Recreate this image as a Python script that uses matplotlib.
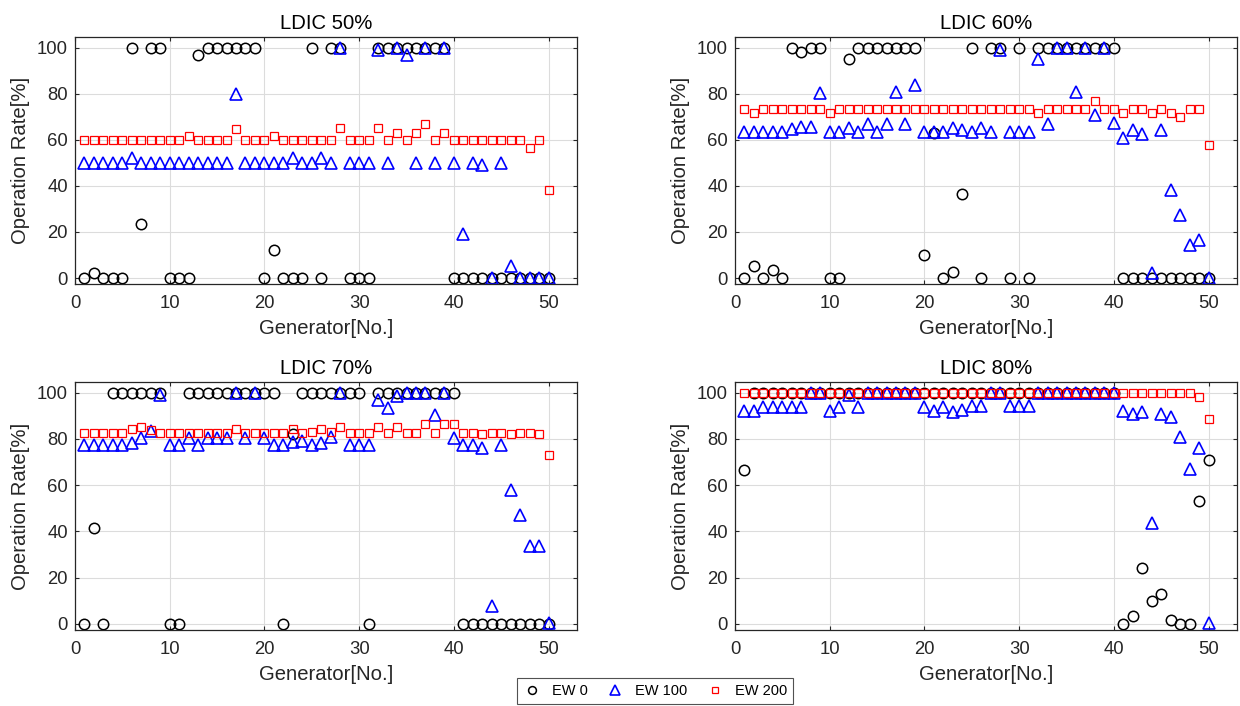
import numpy as np
import matplotlib
matplotlib.use("Agg")
import matplotlib.pyplot as plt

plt.rcParams['font.family'] = ['Liberation Sans', 'DejaVu Sans']

gen = np.arange(1, 51)
titles = ["LDIC 50%", "LDIC 60%", "LDIC 70%", "LDIC 80%"]
series_names = ["EW 0", "EW 100", "EW 200"]

# LDIC 50%
ew0_50 = [0, 2, 0, 0, 0, 100, 23.5, 100, 100, 0,
          0, 0, 97, 100, 100, 100, 100, 100, 100, 0,
          12, 0, 0, 0, 100, 0, 100, 100, 0, 0,
          0, 100, 100, 100, 100, 100, 100, 100, 100, 0,
          0, 0, 0, 0, 0, 0, 0, 0, 0, 0]
ew100_50 = [50, 50, 50, 50, 50, 52, 50, 50, 50, 50,
            50, 50, 50, 50, 50, 50, 80, 50, 50, 50,
            50, 50, 52, 50, 50, 52, 50, 100, 50, 50,
            50, 99, 50, 100, 97, 50, 100, 50, 100, 50,
            19, 50, 49, 0, 50, 5, 0, 0, 0, 0]
ew200_50 = [60, 60, 60, 60, 60, 60, 60, 60, 60, 60,
            60, 61.5, 60, 60, 60, 60, 64.5, 60, 60, 60,
            61.5, 60, 60, 60, 60, 60, 60, 65, 60, 60,
            60, 65, 60, 63, 60, 63, 66.8, 60, 63, 60,
            60, 60, 60, 60, 60, 60, 60, 56.6, 60, 38]

# LDIC 60%
ew0_60 = [0, 5, 0, 3.5, 0, 100, 98, 100, 100, 0,
          0, 95, 100, 100, 100, 100, 100, 100, 100, 10,
          63, 0, 2.5, 36.5, 100, 0, 100, 100, 0, 100,
          0, 100, 100, 100, 100, 100, 100, 100, 100, 100,
          0, 0, 0, 0, 0, 0, 0, 0, 0, 0]
ew100_60 = [63.4, 63.4, 63.4, 63.4, 63.4, 64.7, 65.6, 65.6, 80.3, 63.4,
            63.4, 65.3, 63.4, 67, 63.4, 67, 80.8, 67, 83.7, 63.4,
            63.4, 63.4, 65.2, 64.2, 63.4, 65.2, 63.4, 99, 63.4, 63.4,
            63.4, 95, 67, 100, 100, 80.8, 100, 70.7, 100, 67.3,
            60.8, 64.2, 62.7, 2.3, 64.2, 38.4, 27.3, 14.2, 16.5, 0]
ew200_60 = [73.3, 71.4, 73.3, 73.3, 73.3, 73.3, 73.3, 73.3, 73.3, 71.7,
            73.3, 73.3, 73.3, 73.3, 73.3, 73.3, 73.3, 73.3, 73.3, 73.3,
            73.3, 73.3, 73.3, 73.3, 73.3, 73.3, 73.3, 73.3, 73.3, 73.3,
            73.3, 71.7, 73.3, 73.3, 73.3, 73.3, 73.3, 76.9, 73.3, 73.3,
            71.7, 73.3, 73.3, 71.7, 73.3, 71.4, 69.9, 73.3, 73.3, 57.9]

# LDIC 70%
ew0_70 = [0, 41.5, 0, 100, 100, 100, 100, 100, 100, 0,
          0, 100, 100, 100, 100, 100, 100, 100, 100, 100,
          100, 0, 82, 100, 100, 100, 100, 100, 100, 100,
          0, 100, 100, 100, 100, 100, 100, 100, 100, 100,
          0, 0, 0, 0, 0, 0, 0, 0, 0, 0]
ew100_70 = [77.2, 77.2, 77.2, 77.2, 77.2, 78.2, 80.4, 83.4, 98.8, 77.2,
            77.2, 80.4, 77.2, 80.4, 80.4, 80.4, 100, 80.4, 100, 80.4,
            77.2, 77.2, 78.6, 79, 77.2, 78.2, 80.8, 100, 77.2, 77.2,
            77.2, 96.7, 93.4, 98.6, 100, 100, 100, 90.2, 100, 80.4,
            77.2, 77.2, 76, 7.6, 77.2, 58, 47.2, 33.6, 33.6, 0.5]
ew200_70 = [82.7, 82.7, 82.7, 82.7, 82.7, 84.1, 85.1, 83.7, 82.7, 82.7,
            82.7, 82.7, 82.7, 82.7, 82.7, 82.7, 84.4, 82.7, 82.7, 82.7,
            82.7, 82.7, 84.4, 82.7, 83, 84.4, 83, 85.1, 82.7, 82.7,
            82.7, 85.1, 82.7, 85.1, 82.7, 82.7, 86.6, 82.7, 86.6, 86.6,
            82.7, 82.7, 82, 82.7, 82.7, 82, 82.7, 82.7, 82, 72.9]

# LDIC 80%
ew0_80 = [66.7, 100, 100, 100, 100, 100, 100, 100, 100, 100,
          100, 100, 100, 100, 100, 100, 100, 100, 100, 100,
          100, 100, 100, 100, 100, 100, 100, 100, 100, 100,
          100, 100, 100, 100, 100, 100, 100, 100, 100, 100,
          0, 3.3, 24.3, 9.9, 13, 1.9, 0, 0, 53.3, 71]
ew100_80 = [92, 92, 93.8, 93.8, 93.8, 93.8, 93.8, 100, 100, 92,
            93.8, 99, 93.8, 100, 100, 100, 100, 100, 100, 93.8,
            92, 93.8, 91.6, 92.3, 94.2, 94.2, 100, 100, 94.2, 94.2,
            94.2, 100, 100, 100, 100, 100, 100, 100, 100, 100,
            92, 90.6, 91.6, 43.8, 90.6, 89.4, 80.7, 67.1, 76.1, 0.4]
ew200_80 = [100, 100, 100, 100, 100, 100, 100, 100, 100, 100,
            100, 100, 100, 100, 100, 100, 100, 100, 100, 100,
            100, 100, 100, 100, 100, 100, 100, 100, 100, 100,
            100, 100, 100, 100, 100, 100, 100, 100, 100, 100,
            100, 100, 100, 100, 100, 100, 100, 100, 98, 88.8]

panels = [
    (ew0_50, ew100_50, ew200_50),
    (ew0_60, ew100_60, ew200_60),
    (ew0_70, ew100_70, ew200_70),
    (ew0_80, ew100_80, ew200_80),
]

W, H = 1240, 706
fig = plt.figure(figsize=(W / 100, H / 100), dpi=100)

# axes boxes in pixels: left, top, right, bottom
boxes = [(75, 37, 577, 284), (735, 37, 1237, 284),
         (75, 382, 577, 630), (735, 382, 1237, 630)]

txt = '#262626'
handles = None
for (l, t, r, b), title, (s0, s1, s2) in zip(boxes, titles, panels):
    ax = fig.add_axes([l / W, 1 - b / H, (r - l) / W, (b - t) / H])
    h0, = ax.plot(gen, s0, 'o', ms=7.5, mfc='none', mec='black', mew=1.1, ls='none')
    h1, = ax.plot(gen, s1, '^', ms=9, mfc='none', mec=(0, 0, 1), mew=1.2, ls='none')
    h2, = ax.plot(gen, s2, 's', ms=5.5, mfc='none', mec=(1, 0, 0), mew=0.9, ls='none')
    handles = [h0, h1, h2]
    ax.set_xlim(0, 53)
    ax.set_ylim(-2.6, 104.6)
    ax.set_xticks(range(0, 51, 10))
    ax.set_yticks(range(0, 101, 20))
    ax.grid(True, color='#dcdcdc', lw=0.8)
    ax.set_axisbelow(True)
    ax.tick_params(direction='in', top=True, right=True, length=3,
                   labelsize=13.3, colors=txt, width=0.8)
    ax.tick_params(axis='x', pad=8)
    ax.tick_params(axis='y', pad=5)
    for sp in ax.spines.values():
        sp.set_color('#262626')
        sp.set_linewidth(0.9)
    ax.set_title(title, fontsize=14.6, color='black', pad=6)
    ax.set_xlabel("Generator[No.]", fontsize=14.6, color=txt, labelpad=5)
    ax.set_ylabel("Operation Rate[%]", fontsize=14.6, color=txt, labelpad=5)

leg = fig.legend(handles, series_names, loc='upper center', ncol=3,
                 bbox_to_anchor=(655 / W, 1 - 678 / H), fontsize=10.5,
                 frameon=True, fancybox=False, edgecolor='#262626',
                 handlelength=1.2, handletextpad=0.8, columnspacing=1.25,
                 borderpad=0.4, borderaxespad=0, markerscale=0.75)
leg.get_frame().set_linewidth(0.8)

fig.savefig("out.png", dpi=100)
